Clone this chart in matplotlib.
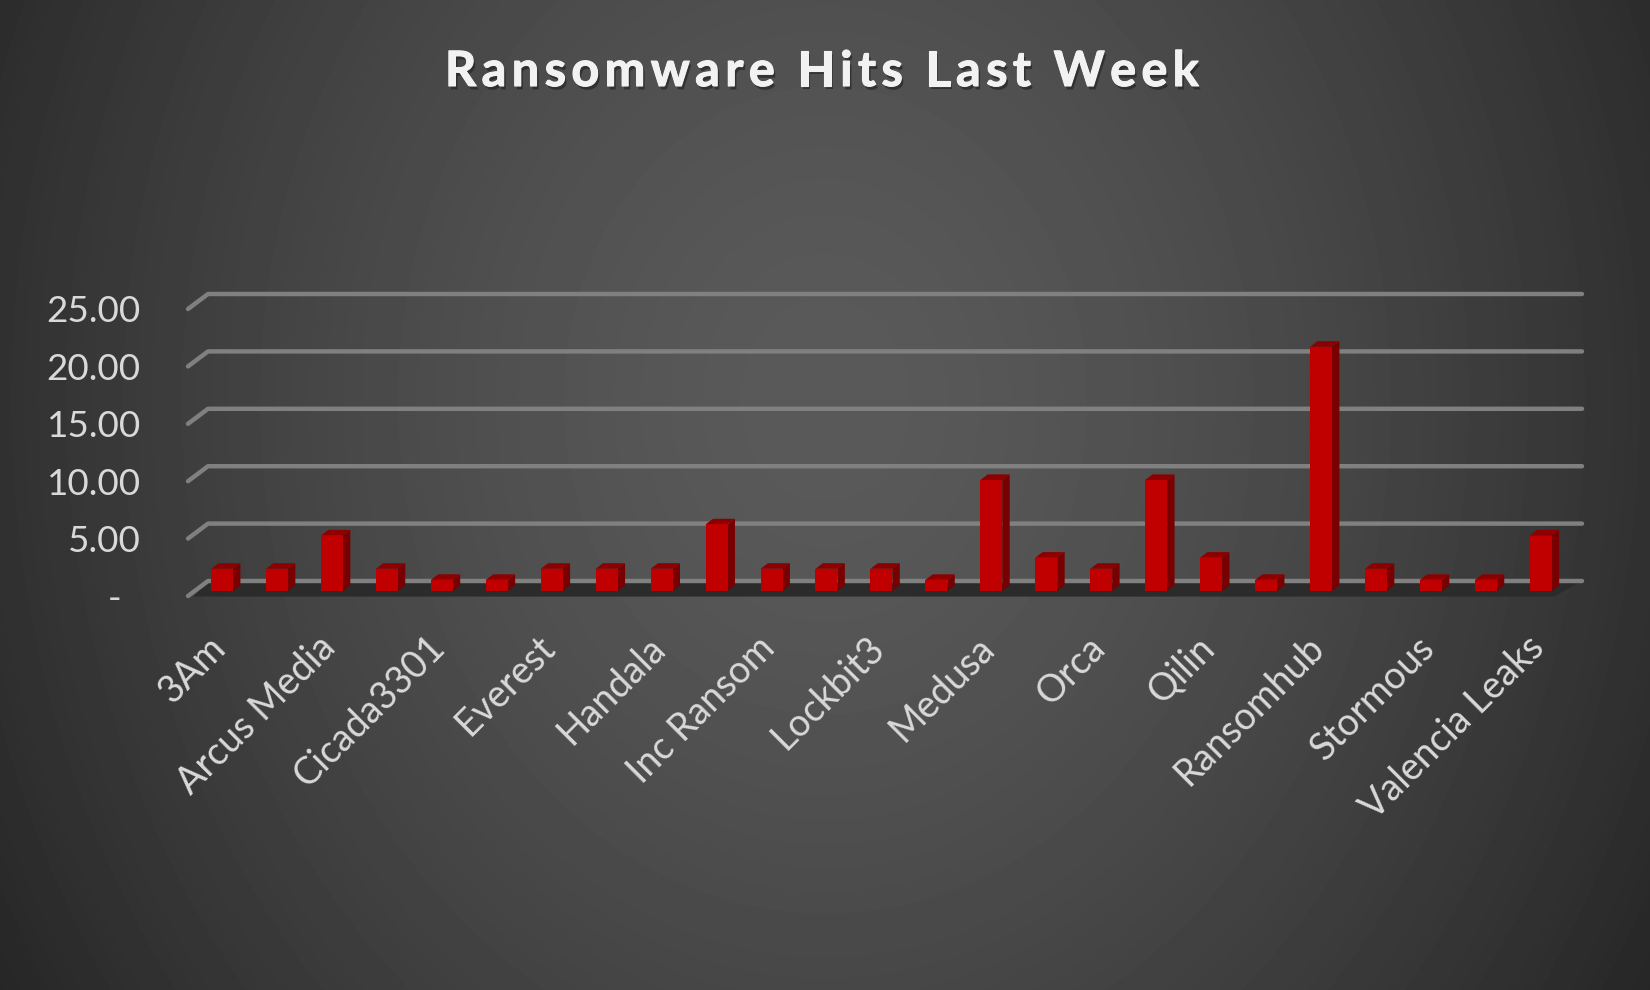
import numpy as np
import matplotlib
matplotlib.use("Agg")
import matplotlib.pyplot as plt
import matplotlib.patheffects as pe
from matplotlib.text import Text
from matplotlib.transforms import IdentityTransform, ScaledTranslation

hits = [2, 2, 5, 2, 1, 1, 2, 2, 2, 6, 2, 2, 2, 1, 10, 3, 2, 10, 3, 1, 22, 2, 1, 1, 5]
tick_names = ["3Am", "Arcus Media", "Cicada3301", "Everest", "Handala", "Inc Ransom",
              "Lockbit3", "Medusa", "Orca", "Qilin", "Ransomhub", "Stormous", "Valencia Leaks"]
y_ticks = [0, 5, 10, 15, 20, 25]
y_labels = ["-  ", "5.00", "10.00", "15.00", "20.00", "25.00"]
title = "Ransomware Hits Last Week"

W, H = 1650, 990
FONT = "Lato"
fig = plt.figure(figsize=(W / 100, H / 100), dpi=100)

# Background radial gradient
bg = fig.add_axes([0, 0, 1, 1])
yy, xx = np.mgrid[0:H, 0:W]
r = np.hypot((xx - 825) / 825, (yy - 400) / 990)
shade = np.clip(90 - 41 * r ** 1.5, 30, 90) / 255
bg.imshow(shade, cmap="gray", vmin=0, vmax=1, aspect="auto", interpolation="bilinear")
bg.axis("off")


class TrackedText(Text):
    """A single text drawn with extra letter spacing (px)."""
    tracking = 0.0

    def draw(self, renderer):
        full = self.get_text()
        x0, y0 = self.get_position()
        fp = self.get_fontproperties()
        for i, ch in enumerate(full):
            w = renderer.get_text_width_height_descent(full[:i], fp, False)[0] if i else 0
            Text.set_text(self, ch)
            Text.set_position(self, (x0 + w + i * self.tracking, y0))
            if ch != " ":
                super().draw(renderer)
        Text.set_text(self, full)
        Text.set_position(self, (x0, y0))


# Pixel frame of the chart
L, R, TOP, BOT = 188, 1582, 270, 596


def rect(l, r, t, b):
    return [l / W, 1 - b / H, (r - l) / W, (b - t) / H]


# Grid axes: front plane of value axis
ax = fig.add_axes(rect(L, R, TOP, BOT))
ax.patch.set_alpha(0)
px_grid = 11.48
ax.set_xlim(0, 1)
ax.set_ylim(0, (BOT - TOP) / px_grid)
ddx, ddy = 20 / (R - L), 15 / px_grid
floor_x = [0.004, ddx, 0.9998, 0.9800]
floor_y = [-0.05, ddy, ddy, -0.05]
ax.fill(floor_x, floor_y, color="#2b2b2b", lw=0, zorder=1, clip_on=False)
for v in y_ticks:
    ax.plot([0, ddx, 1], [v, v + ddy, v + ddy], color="#808080", lw=3.2,
            solid_capstyle="round", solid_joinstyle="round", clip_on=False, zorder=2)
ax.set_xticks([])
ax.set_yticks(y_ticks, y_labels, fontsize=26.5, color="#d9d9d9", family=FONT)
ax.tick_params(axis="y", length=0, pad=34)
for s in ax.spines.values():
    s.set_visible(False)

# Bars axes: front plane of the columns
bx = fig.add_axes(rect(L, R, TOP, BOT))
bx.patch.set_alpha(0)
step, x0_px, base_px, px_bar = 54.95, 222, 591, 11.1
bx.set_xlim((L - x0_px) / step, (R - x0_px) / step)
bx.set_ylim((base_px - BOT) / px_bar, (base_px - TOP) / px_bar)
bw = 22 / step
dx, dy = 7.4 / step, 5.6 / px_bar
pos = np.arange(len(hits))
for p, h in zip(pos, hits):
    l, rr = p - bw / 2, p + bw / 2
    bx.fill([l, rr, rr + dx, l + dx], [h, h, h + dy, h + dy], color="#8e0000", lw=0, zorder=3)
    bx.fill([rr, rr + dx, rr + dx, rr], [0, dy, h + dy, h], color="#780000", lw=0, zorder=3)
bx.bar(pos, hits, width=bw, color="#c00000", lw=0, zorder=4)
bx.set_yticks([])
bx.set_xticks(pos[::2], tick_names, fontsize=27, color="#d9d9d9", family=FONT,
              rotation=45, ha="right", rotation_mode="anchor")
bx.tick_params(axis="x", length=0, pad=24)
shift = ScaledTranslation(-15 / 100, 0, fig.dpi_scale_trans)
for lab in bx.get_xticklabels():
    lab.set_transform(lab.get_transform() + shift)
for s in bx.spines.values():
    s.set_visible(False)

# Title
t = TrackedText(445, H - 86, title, transform=IdentityTransform(), fontsize=35,
                fontweight="bold", family=FONT, color="#f2f2f2", ha="left", va="baseline",
                path_effects=[pe.withSimplePatchShadow(offset=(1.5, -2.5), shadow_rgbFace="#1a1a1a", alpha=0.55),
                              pe.withStroke(linewidth=0.8, foreground="#f2f2f2")])
t.tracking = 5.4
fig.add_artist(t)

fig.savefig("out.png", dpi=100)
